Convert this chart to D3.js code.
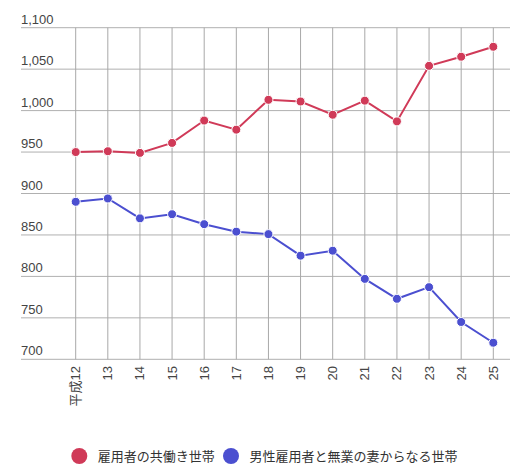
<!DOCTYPE html>
<html>
<head>
<meta charset="utf-8">
<script src="https://cdn.jsdelivr.net/npm/d3@7"></script>
<style>
  body { margin: 0; background: #fff; }
  text { font-family: Arial, "Liberation Sans", "Noto Sans CJK JP", sans-serif; }
</style>
</head>
<body>
<script>
// x categories (Heisei years)
var years = ['平成12', '13', '14', '15', '16', '17', '18', '19', '20', '21', '22', '23', '24', '25'];
// dual income households (10k)
var dualIncome = [950, 951, 949, 961, 988, 977, 1013, 1011, 995, 1012, 987, 1054, 1065, 1077];
// male employee + unemployed wife households (10k)
var singleIncome = [890, 894, 870, 875, 863, 854, 851, 825, 831, 797, 773, 787, 745, 720];
var yTicks = [700, 750, 800, 850, 900, 950, 1000, 1050, 1100];
var seriesNames = ['雇用者の共働き世帯', '男性雇用者と無業の妻からなる世帯'];
var colors = ['#d03a58', '#4b4fd0'];

var width = 529, height = 471;
// note: "top" is taken by window.top, so plot edges get their own names
var plotLeft = 21, plotRight = 510, plotTop = 27.7, plotBottom = 359.3;

var svg = d3.select('body').append('svg')
  .attr('width', width)
  .attr('height', height);

var x = d3.scalePoint()
  .domain(years)
  .range([75.7, 493.3]);

var y = d3.scaleLinear()
  .domain([700, 1100])
  .range([plotBottom, plotTop]);

// horizontal gridlines
svg.selectAll('line.hgrid')
  .data(yTicks)
  .enter()
    .append('line')
    .attr('class', 'hgrid')
    .attr('x1', plotLeft)
    .attr('x2', plotRight)
    .attr('y1', function(d) { return y(d); })
    .attr('y2', function(d) { return y(d); })
    .attr('stroke', '#b0b0b0')
    .attr('stroke-width', 1);

// vertical gridlines
svg.selectAll('line.vgrid')
  .data(years)
  .enter()
    .append('line')
    .attr('class', 'vgrid')
    .attr('x1', function(d) { return x(d); })
    .attr('x2', function(d) { return x(d); })
    .attr('y1', plotTop)
    .attr('y2', plotBottom)
    .attr('stroke', '#a8a8a8')
    .attr('stroke-width', 1);

// y labels
svg.selectAll('text.ylab')
  .data(yTicks)
  .enter()
    .append('text')
    .attr('class', 'ylab')
    .attr('x', plotLeft)
    .attr('y', function(d) { return y(d) - 4; })
    .attr('font-size', 13)
    .attr('fill', '#444')
    .text(function(d) { return d3.format(',')(d); });

// x labels, rotated
svg.selectAll('text.xlab')
  .data(years)
  .enter()
    .append('text')
    .attr('class', 'xlab')
    .attr('transform', function(d) { return 'translate(' + (x(d) + 4.5) + ',' + 366 + ') rotate(-90)'; })
    .attr('text-anchor', 'end')
    .attr('font-size', 13)
    .attr('fill', '#444')
    .text(function(d) { return d; });

var line = d3.line()
  .x(function(d, i) { return x(years[i]); })
  .y(function(d) { return y(d); });

[dualIncome, singleIncome].forEach(function(series, s) {
  svg.append('path')
    .datum(series)
    .attr('d', line)
    .attr('fill', 'none')
    .attr('stroke', colors[s])
    .attr('stroke-width', 2);

  svg.selectAll('circle.s' + s)
    .data(series)
    .enter()
      .append('circle')
      .attr('class', 's' + s)
      .attr('cx', function(d, i) { return x(years[i]); })
      .attr('cy', function(d) { return y(d); })
      .attr('r', 4.5)
      .attr('fill', colors[s])
      .attr('stroke', '#fff')
      .attr('stroke-width', 1);
});

// legend
var legendX = [79.3, 231];
seriesNames.forEach(function(name, s) {
  svg.append('circle')
    .attr('cx', legendX[s])
    .attr('cy', 456)
    .attr('r', 8)
    .attr('fill', colors[s]);
  svg.append('text')
    .attr('x', legendX[s] + 18.5)
    .attr('y', 460.5)
    .attr('font-size', 13)
    .attr('fill', '#333')
    .text(name);
});
</script>
</body>
</html>
